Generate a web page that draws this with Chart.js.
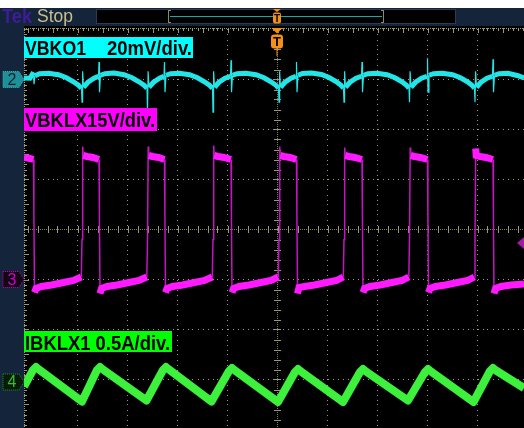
<!DOCTYPE html>
<html>
<head>
<meta charset="utf-8">
<script src="https://cdn.jsdelivr.net/npm/chart.js@4.4.1/dist/chart.umd.min.js"></script>
<style>
html, body { margin: 0; padding: 0; background: #14243a; }
canvas { display: block; }
</style>
</head>
<body>
<canvas id="scope" width="524" height="428"></canvas>
<script>
// time in screen divisions (0 = first graticule line)
const ch2Time = [
    -0.07, 0.05, 0.12, 0.13, 0.15, 0.24, 0.42, 0.62, 0.78, 0.92, 1.02, 1.08, 1.09, 1.102, 1.12, 1.21, 1.33, 1.42,
    1.43, 1.44, 1.46, 1.55, 1.73, 1.93, 2.09, 2.23, 2.33, 2.39, 2.40, 2.412, 2.43, 2.52, 2.64, 2.73,
    2.74, 2.75, 2.77, 2.86, 3.04, 3.24, 3.40, 3.54, 3.64, 3.70, 3.71, 3.722, 3.74, 3.83, 3.95, 4.06,
    4.07, 4.08, 4.10, 4.19, 4.37, 4.57, 4.73, 4.87, 4.97, 5.02, 5.03, 5.042, 5.06, 5.15, 5.27, 5.37,
    5.38, 5.39, 5.41, 5.50, 5.68, 5.88, 6.04, 6.18, 6.27, 6.32, 6.33, 6.342, 6.36, 6.45, 6.57, 6.68,
    6.69, 6.70, 6.72, 6.81, 6.99, 7.19, 7.35, 7.49, 7.58, 7.63, 7.64, 7.652, 7.67, 7.76, 7.88, 7.99,
    8.00, 8.01, 8.03, 8.12, 8.30, 8.50, 8.66, 8.80, 8.89, 8.94, 8.95, 8.962, 8.98, 9.07, 9.19, 9.30,
    9.31, 9.32, 9.34, 9.43, 9.61, 9.81, 9.93
];
const ch2MilliVolts = [
    0.6, 0.5, 2.9, -1.9, 1.5, 2.3, 2.5, 1.9, 0.7, -0.9, -2.3, -3.5, -9.1, 3.3, -3.1, -1.1, 0.5, 1.3,
    7.0, -5.1, 1.7, 2.3, 2.6, 1.9, 0.7, -0.9, -2.3, -3.5, -13.1, 3.3, -3.1, -1.1, 0.5, 1.3,
    7.0, -5.1, 1.7, 2.3, 2.5, 1.9, 0.7, -0.9, -2.3, -3.5, -13.1, 3.3, -3.1, -1.1, 0.5, 1.3,
    7.7, -5.1, 1.7, 2.3, 2.5, 1.9, 0.7, -0.9, -2.3, -3.5, -9.1, 3.3, -3.1, -1.1, 0.5, 1.3,
    7.0, -5.1, 1.7, 2.4, 2.6, 2.0, 0.7, -0.9, -2.3, -3.5, -9.1, 3.3, -3.1, -1.1, 0.5, 1.3,
    7.0, -5.1, 1.7, 2.3, 2.5, 1.9, 0.7, -0.9, -2.3, -3.5, -9.1, 3.3, -3.1, -1.1, 0.5, 1.3,
    8.5, -5.1, 1.7, 2.3, 2.5, 1.9, 0.7, -0.9, -2.3, -3.5, -9.1, 3.3, -3.1, -1.1, 0.5, 1.3,
    8.1, -5.1, 1.7, 2.3, 2.5, 1.5, 0.6
];

const ch3Time = [
    -0.07, 0.05,
    0.12, 0.128, 0.14, 0.17, 0.28, 0.48, 0.72, 0.92, 1.076, 1.09, 1.104, 1.114, 1.19, 1.31,
    1.43, 1.438, 1.45, 1.48, 1.59, 1.79, 2.03, 2.23, 2.386, 2.40, 2.414, 2.424, 2.50, 2.62,
    2.74, 2.748, 2.76, 2.79, 2.90, 3.10, 3.34, 3.54, 3.696, 3.71, 3.724, 3.734, 3.81, 3.93,
    4.07, 4.078, 4.09, 4.12, 4.23, 4.43, 4.67, 4.87, 5.016, 5.03, 5.044, 5.054, 5.13, 5.25,
    5.38, 5.388, 5.40, 5.43, 5.54, 5.74, 5.98, 6.18, 6.316, 6.33, 6.344, 6.354, 6.43, 6.55,
    6.69, 6.698, 6.71, 6.74, 6.85, 7.05, 7.29, 7.49, 7.626, 7.64, 7.654, 7.664, 7.74, 7.86,
    8.00, 8.008, 8.02, 8.05, 8.16, 8.36, 8.60, 8.80, 8.936, 8.95, 8.964, 8.974, 9.05, 9.17,
    9.31, 9.318, 9.33, 9.36, 9.47, 9.67, 9.93
];
const ch3Volts = [
    12.2, 12.1,
    12.0, 6.5, -1.3, -0.9, -0.7, -0.55, -0.3, -0.1, 0.25, 4.0, 13.3, 12.4, 12.3, 12.2,
    12.0, 6.5, -1.4, -0.9, -0.7, -0.55, -0.3, -0.1, 0.25, 4.0, 13.3, 12.4, 12.3, 12.2,
    12.0, 6.5, -1.3, -0.9, -0.7, -0.55, -0.3, -0.1, 0.25, 4.0, 13.4, 12.4, 12.3, 12.2,
    12.0, 6.5, -1.3, -0.9, -0.7, -0.55, -0.3, -0.1, 0.25, 4.0, 13.3, 12.4, 12.3, 12.2,
    12.0, 6.5, -1.4, -0.8, -0.7, -0.55, -0.3, -0.1, 0.25, 4.0, 13.2, 12.4, 12.3, 12.2,
    12.0, 6.5, -1.3, -0.9, -0.7, -0.55, -0.3, -0.1, 0.25, 4.0, 13.2, 12.4, 12.3, 12.2,
    12.0, 6.5, -1.3, -0.9, -0.7, -0.55, -0.3, -0.1, 0.25, 4.0, 13.1, 12.4, 12.3, 12.2,
    12.0, 6.5, -1.4, -0.9, -0.7, -0.55, -0.45
];

const ch4Time = [
    -0.07, 0.11, 0.17, 0.23, 1.09, 1.39, 1.45, 1.51, 2.38, 2.71, 2.77, 2.83, 3.68,
    4.03, 4.09, 4.15, 5.01, 5.35, 5.41, 5.47, 6.31, 6.65, 6.71, 6.77, 7.61,
    7.95, 8.01, 8.07, 8.92, 9.25, 9.31, 9.37, 9.93
];
const ch4Amps = [
    -0.045, 0.12, 0.15, 0.125, -0.195, 0.12, 0.15, 0.125, -0.185, 0.12, 0.15, 0.125, -0.195,
    0.11, 0.14, 0.115, -0.2, 0.10, 0.13, 0.105, -0.2, 0.10, 0.13, 0.105, -0.185,
    0.10, 0.13, 0.105, -0.2, 0.11, 0.14, 0.115, -0.06
];

const ch2Label = ['VBKO1', '20mV/div.'];
const ch3Label = 'VBKLX15V/div.';
const ch4Label = 'IBKLX1 0.5A/div.';

// vertical setting of each channel: units per division, marker position in divisions
const ch2Scale = { perDiv: 20, offsetDiv: 3.0 };
const ch3Scale = { perDiv: 5, offsetDiv: -1.0 };
const ch4Scale = { perDiv: 0.5, offsetDiv: -3.05 };

const toPoints = (times, values, scale) =>
    times.map((t, i) => ({ x: t, y: scale.offsetDiv + values[i] / scale.perDiv }));

const edgeWidth = (thick, thin) => ctx =>
    Math.abs(ctx.p1.parsed.y - ctx.p0.parsed.y) > 0.15 ? thin : thick;
const edgeColor = (body, edge) => ctx =>
    Math.abs(ctx.p1.parsed.y - ctx.p0.parsed.y) > 0.15 ? edge : body;

const GRID = '#9a9a78';

function fitText(ctx, text, x, baseline, width, font, color) {
    ctx.save();
    ctx.font = font;
    ctx.fillStyle = color;
    ctx.textBaseline = 'alphabetic';
    const w = ctx.measureText(text).width;
    ctx.translate(x, baseline);
    ctx.scale(width / w, 1);
    ctx.fillText(text, 0, 0);
    ctx.restore();
}

const frame = {
    id: 'frame',
    beforeDraw(chart) {
        const ctx = chart.ctx;
        const a = chart.chartArea;
        ctx.save();
        ctx.fillStyle = '#ffffff';
        ctx.fillRect(0, 0, 524, 8);
        ctx.fillStyle = '#14243a';
        ctx.fillRect(0, 8, 524, 420);
        ctx.fillStyle = '#000000';
        ctx.fillRect(a.left, a.top - 2, a.right - a.left, a.bottom - a.top + 2);

        // status bar
        fitText(ctx, 'Tek', 2, 23, 30, 'bold 20px "Liberation Sans", Arial, sans-serif', '#3f1c9a');
        fitText(ctx, 'Stop', 37, 22, 36, '18px "Liberation Sans", Arial, sans-serif', '#c9c08a');
        ctx.fillStyle = '#000000';
        ctx.fillRect(96, 9, 360, 15);
        ctx.strokeStyle = '#2b3b50';
        ctx.lineWidth = 1;
        ctx.strokeRect(96.5, 9.5, 359, 14);
        ctx.fillStyle = '#8c8a66';
        ctx.fillRect(168, 10, 1, 13);
        ctx.fillRect(168, 10, 3, 1);
        ctx.fillRect(168, 22, 3, 1);
        ctx.fillRect(383, 10, 1, 13);
        ctx.fillRect(381, 10, 3, 1);
        ctx.fillRect(381, 22, 3, 1);
        ctx.fillStyle = '#1aa7a7';
        ctx.fillRect(170, 16, 212, 1);
        ctx.fillStyle = '#f39019';
        ctx.beginPath();
        ctx.moveTo(273, 9); ctx.lineTo(281, 9); ctx.lineTo(277, 12); ctx.closePath();
        ctx.fill();
        ctx.beginPath();
        ctx.roundRect(273, 12.5, 8, 11, 2);
        ctx.fill();
        ctx.fillStyle = '#000000';
        ctx.font = 'bold 10px "Liberation Sans", Arial, sans-serif';
        ctx.textAlign = 'center';
        ctx.fillText('T', 277, 22);
        ctx.restore();
    },
    beforeDatasetsDraw(chart) {
        const ctx = chart.ctx;
        const xs = chart.scales.x;
        const ys = chart.scales.y;
        const a = chart.chartArea;
        const cx = Math.floor(xs.getPixelForValue(5));
        const cy = Math.floor(ys.getPixelForValue(0));
        ctx.save();
        ctx.fillStyle = GRID;
        for (let k = 1; k <= 9; k++) {
            if (k === 5) continue;
            const x = Math.floor(xs.getPixelForValue(k));
            for (let m = -40; m <= 40; m++) {
                ctx.fillRect(x, Math.round(ys.getPixelForValue(m / 10)), 1, 1);
            }
        }
        for (let j = -3; j <= 3; j++) {
            if (j === 0) continue;
            const y = Math.floor(ys.getPixelForValue(j));
            for (let m = 0; m <= 100; m++) {
                ctx.fillRect(Math.round(xs.getPixelForValue(m / 10)), y, 1, 1);
            }
        }
        // centre cross with ticks
        ctx.fillStyle = '#7c7c60';
        for (let x = a.left; x < a.right; x += 2) ctx.fillRect(x, cy, 1, 1);
        for (let y = a.top; y < a.bottom; y += 2) ctx.fillRect(cx, y, 1, 1);
        ctx.fillStyle = GRID;
        for (let m = 0; m <= 50; m++) {
            const x = Math.round(xs.getPixelForValue(m / 5));
            ctx.fillRect(x, cy - 3, 1, 7);
        }
        for (let m = -20; m <= 20; m++) {
            const y = Math.round(ys.getPixelForValue(m / 5));
            ctx.fillRect(cx - 3, y, 7, 1);
        }
        // top and left borders
        const top = Math.round(a.top);
        for (let x = a.left; x < a.right; x += 2) ctx.fillRect(x, top, 1, 1);
        for (let y = a.top; y < a.bottom; y += 2) ctx.fillRect(a.left, y, 1, 1);
        for (let m = 0; m <= 100; m++) {
            const x = Math.round(xs.getPixelForValue(m / 10));
            ctx.fillRect(x, top, 1, m % 5 === 0 ? 5 : 3);
        }
        for (let m = -40; m <= 40; m++) {
            const y = Math.round(ys.getPixelForValue(m / 10));
            ctx.fillRect(a.left, y, m % 5 === 0 ? 5 : 3, 1);
        }
        ctx.restore();
    },
    afterDatasetsDraw(chart) {
        const ctx = chart.ctx;
        const ys = chart.scales.y;
        const font = 'bold 20px "Liberation Sans", Arial, sans-serif';
        ctx.save();

        // channel labels
        ctx.fillStyle = '#00ffff';
        ctx.fillRect(24, 37, 169, 21);
        fitText(ctx, ch2Label[0], 25, 55, 61, font, '#000000');
        fitText(ctx, ch2Label[1], 107, 55, 85, font, '#000000');
        ctx.fillStyle = '#ff00ff';
        ctx.fillRect(24, 108, 133, 23);
        fitText(ctx, ch3Label, 25, 127, 130, font, '#000000');
        ctx.fillStyle = '#00ff00';
        ctx.fillRect(24, 331, 148, 21);
        fitText(ctx, ch4Label, 25, 350, 145, font, '#000000');

        // ground markers on the left
        const marker = (scale, label, fill, line, text) => {
            const y = ys.getPixelForValue(scale.offsetDiv);
            ctx.beginPath();
            ctx.moveTo(3, y - 8); ctx.lineTo(19, y - 8); ctx.lineTo(24, y);
            ctx.lineTo(19, y + 8); ctx.lineTo(3, y + 8); ctx.closePath();
            ctx.fillStyle = fill;
            ctx.fill();
            ctx.setLineDash([1, 1]);
            ctx.strokeStyle = line;
            ctx.lineWidth = 1;
            ctx.stroke();
            ctx.setLineDash([]);
            ctx.fillStyle = text;
            ctx.font = '16px "Liberation Sans", Arial, sans-serif';
            ctx.textAlign = 'center';
            ctx.textBaseline = 'middle';
            ctx.fillText(label, 12, y + 1);
        };
        marker(ch2Scale, '2', '#1f9098', '#2fb5b5', '#0d2030');
        marker(ch3Scale, '3', '#140714', '#c000c0', '#d000d0');
        marker(ch4Scale, '4', '#0a1a0a', '#1a9a1a', '#30c030');

        // trigger position marker
        ctx.fillStyle = '#f39019';
        ctx.beginPath();
        ctx.moveTo(271.5, 28); ctx.lineTo(282.5, 28); ctx.lineTo(277, 33.5); ctx.closePath();
        ctx.fill();
        ctx.beginPath();
        ctx.roundRect(271, 34.5, 12, 14, 3);
        ctx.fill();
        ctx.fillRect(276.5, 48, 1, 8);
        ctx.fillStyle = '#000000';
        ctx.font = 'bold 13px "Liberation Sans", Arial, sans-serif';
        ctx.textAlign = 'center';
        ctx.textBaseline = 'alphabetic';
        ctx.fillText('T', 277, 46);

        // trigger level arrow on the right
        ctx.fillStyle = '#a01ca0';
        ctx.beginPath();
        ctx.moveTo(517, 243); ctx.lineTo(524, 237); ctx.lineTo(524, 249); ctx.closePath();
        ctx.fill();
        ctx.restore();
    }
};

new Chart(document.getElementById('scope'), {
    type: 'line',
    data: {
        datasets: [
            {
                label: 'VBKO1',
                data: toPoints(ch2Time, ch2MilliVolts, ch2Scale),
                borderColor: '#22e5e8',
                borderWidth: 5,
                segment: { borderWidth: edgeWidth(5, 1.2) },
                pointRadius: 0,
                tension: 0
            },
            {
                label: 'VBKLX1',
                data: toPoints(ch3Time, ch3Volts, ch3Scale),
                borderColor: '#ff1aff',
                borderWidth: 7,
                segment: {
                    borderWidth: edgeWidth(7, 1.5),
                    borderColor: edgeColor('#ff1aff', '#c414c4')
                },
                pointRadius: 0,
                tension: 0
            },
            {
                label: 'IBKLX1',
                data: toPoints(ch4Time, ch4Amps, ch4Scale),
                borderColor: '#3cf03c',
                borderWidth: 8,
                borderJoinStyle: 'round',
                pointRadius: 0,
                tension: 0
            }
        ]
    },
    options: {
        responsive: false,
        animation: false,
        devicePixelRatio: 1,
        layout: { padding: { left: 24, top: 28, right: 0, bottom: 0 } },
        scales: {
            x: { type: 'linear', min: -0.07, max: 9.93, display: false },
            y: { type: 'linear', min: -3.97, max: 4.03, display: false }
        },
        plugins: {
            legend: { display: false },
            tooltip: { enabled: false }
        }
    },
    plugins: [frame]
});
</script>
</body>
</html>
